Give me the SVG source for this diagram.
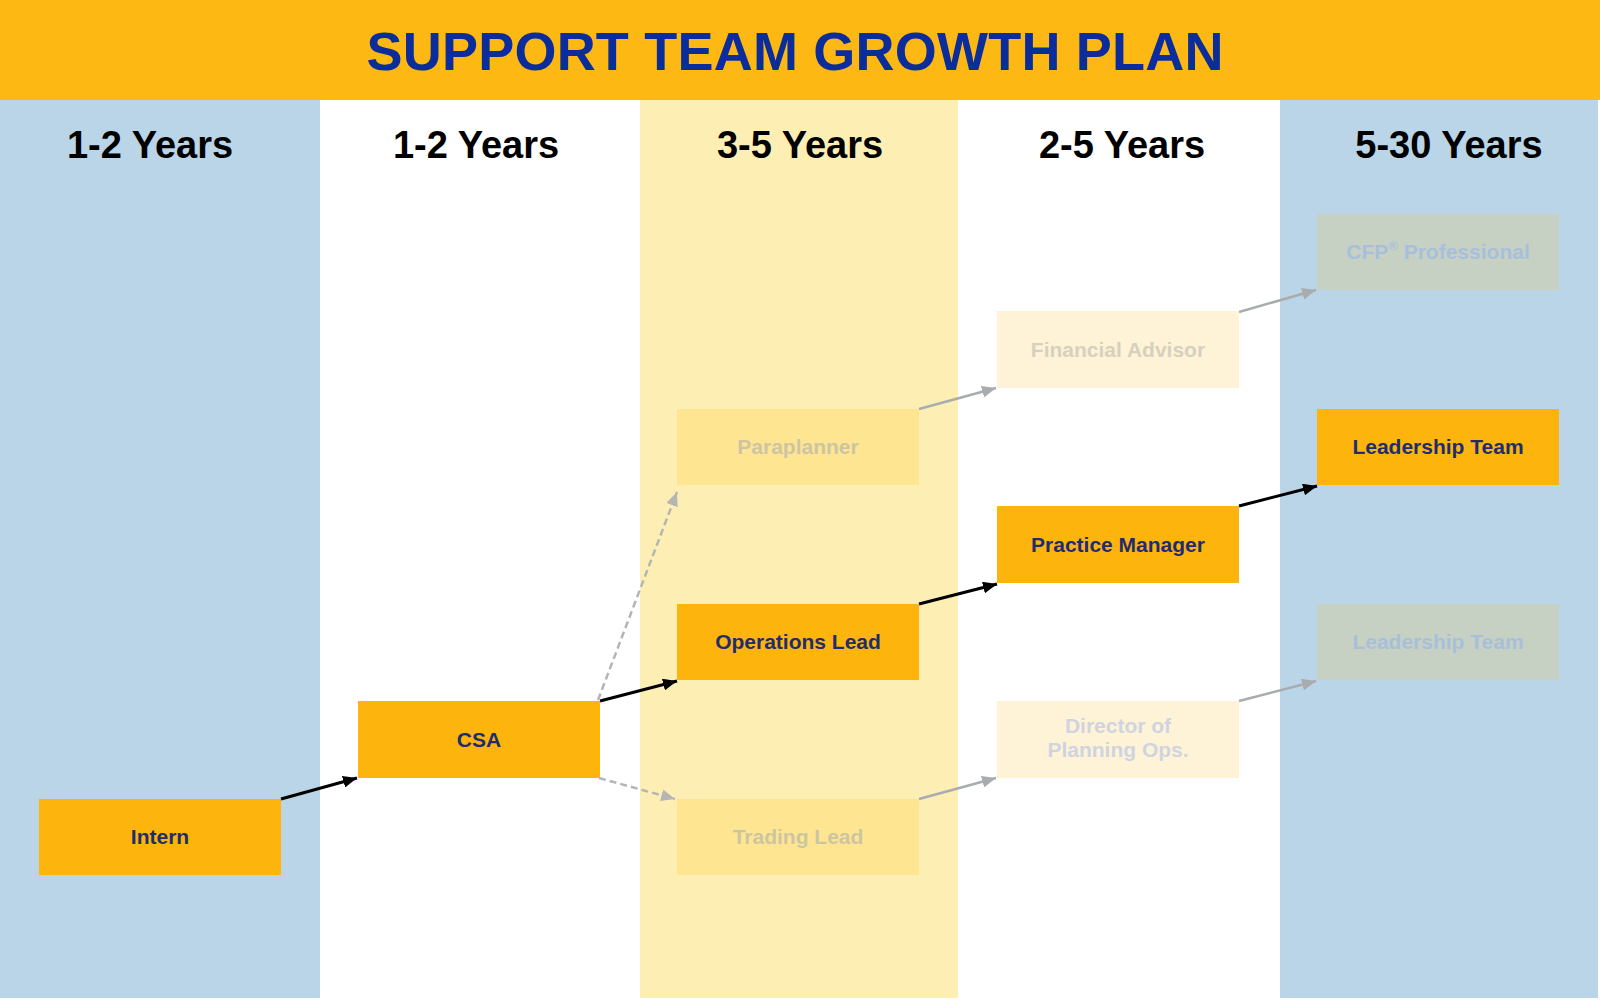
<svg xmlns="http://www.w3.org/2000/svg" width="1600" height="1000" viewBox="0 0 1600 1000">
<defs>
<style>
.title{font-family:"Liberation Sans",Arial,sans-serif;font-weight:bold;font-size:54px;fill:#0B2D9B;text-anchor:middle}
.colhead{font-family:"Liberation Sans",Arial,sans-serif;font-weight:bold;font-size:38px;fill:#000;text-anchor:middle}
.lbl{font-family:"Liberation Sans",Arial,sans-serif;font-weight:bold;font-size:21px;text-anchor:middle}
.on rect{fill:#FDB50E}
.on text{fill:#1F2D6B}
.fy rect{fill:#FEE592}
.fy text{fill:#CDC5A2}
.fw rect{fill:#FEF3D6}
.fw text{fill:#D6D1BE}
.fwb rect{fill:#FEF3D6}
.fwb text{fill:#D0D4E0}
.fb rect{fill:#C6D1C3}
.fb text{fill:#A8BFDC}
.ablk{stroke:#000;stroke-width:3;fill:none}
.agry{stroke:#A9ACAF;stroke-width:2.5;fill:none}
.adsh{stroke:#B5B5B5;stroke-width:2.5;fill:none;stroke-dasharray:7 4}
</style>
<marker id="mBlk" viewBox="0 0 14 12" refX="14" refY="6" markerWidth="14" markerHeight="12" markerUnits="userSpaceOnUse" orient="auto"><path d="M0,0 L14,6 L0,12 z" fill="#000"/></marker>
<marker id="mGry" viewBox="0 0 14 12" refX="14" refY="6" markerWidth="14" markerHeight="12" markerUnits="userSpaceOnUse" orient="auto"><path d="M0,0 L14,6 L0,12 z" fill="#A9ACAF"/></marker>
<marker id="mDsh" viewBox="0 0 14 12" refX="14" refY="6" markerWidth="14" markerHeight="12" markerUnits="userSpaceOnUse" orient="auto"><path d="M0,0 L14,6 L0,12 z" fill="#B5B5B5"/></marker>
</defs>
<rect x="0" y="0" width="1600" height="1000" fill="#FFFFFF"/>
<g id="columns">
<rect x="0" y="100" width="320" height="898" fill="#BAD5E7"/>
<rect x="640" y="100" width="318" height="898" fill="#FDEFB4"/>
<rect x="1280" y="100" width="318" height="898" fill="#BAD5E7"/>
</g>
<g id="header">
<rect x="0" y="0" width="1600" height="100" fill="#FDB813"/>
<text class="title" x="795" y="70" textLength="857" lengthAdjust="spacing">SUPPORT TEAM GROWTH PLAN</text>
</g>
<g id="column-headers">
<text class="colhead" x="150" y="158">1-2 Years</text>
<text class="colhead" x="476" y="158">1-2 Years</text>
<text class="colhead" x="800" y="158">3-5 Years</text>
<text class="colhead" x="1122" y="158">2-5 Years</text>
<text class="colhead" x="1449" y="158">5-30 Years</text>
</g>
<g id="connectors">
<line class="ablk" x1="281" y1="799" x2="357" y2="778" marker-end="url(#mBlk)"/>
<line class="ablk" x1="600" y1="701" x2="677" y2="681" marker-end="url(#mBlk)"/>
<line class="ablk" x1="919" y1="604" x2="997" y2="584" marker-end="url(#mBlk)"/>
<line class="ablk" x1="1239" y1="506" x2="1317" y2="486" marker-end="url(#mBlk)"/>
<line class="adsh" x1="598" y1="700" x2="677" y2="492" marker-end="url(#mDsh)"/>
<line class="adsh" x1="599" y1="778" x2="675" y2="799" marker-end="url(#mDsh)"/>
<line class="agry" x1="919" y1="409" x2="996" y2="388" marker-end="url(#mGry)"/>
<line class="agry" x1="919" y1="799" x2="996" y2="778" marker-end="url(#mGry)"/>
<line class="agry" x1="1239" y1="312" x2="1316" y2="290" marker-end="url(#mGry)"/>
<line class="agry" x1="1239" y1="701" x2="1316" y2="681" marker-end="url(#mGry)"/>
</g>
<g id="node-intern" class="on"><rect x="39" y="799" width="242" height="76"/><text class="lbl" x="160" y="844">Intern</text></g>
<g id="node-csa" class="on"><rect x="358" y="701" width="242" height="77"/><text class="lbl" x="479" y="747">CSA</text></g>
<g id="node-paraplanner" class="fy"><rect x="677" y="409" width="242" height="76"/><text class="lbl" x="798" y="454">Paraplanner</text></g>
<g id="node-operations-lead" class="on"><rect x="677" y="604" width="242" height="76"/><text class="lbl" x="798" y="649">Operations Lead</text></g>
<g id="node-trading-lead" class="fy"><rect x="677" y="799" width="242" height="76"/><text class="lbl" x="798" y="844">Trading Lead</text></g>
<g id="node-financial-advisor" class="fw"><rect x="997" y="311" width="242" height="77"/><text class="lbl" x="1118" y="357">Financial Advisor</text></g>
<g id="node-practice-manager" class="on"><rect x="997" y="506" width="242" height="77"/><text class="lbl" x="1118" y="552">Practice Manager</text></g>
<g id="node-director" class="fwb"><rect x="997" y="701" width="242" height="77"/><text class="lbl" x="1118" y="733">Director of</text><text class="lbl" x="1118" y="757">Planning Ops.</text></g>
<g id="node-cfp" class="fb"><rect x="1317" y="214" width="242" height="76"/><text class="lbl" x="1438" y="259">CFP<tspan font-size="13" dy="-9">®</tspan><tspan dy="9"> Professional</tspan></text></g>
<g id="node-leadership-team" class="on"><rect x="1317" y="409" width="242" height="76"/><text class="lbl" x="1438" y="454">Leadership Team</text></g>
<g id="node-leadership-team-2" class="fb"><rect x="1317" y="604" width="242" height="76"/><text class="lbl" x="1438" y="649">Leadership Team</text></g>
</svg>
